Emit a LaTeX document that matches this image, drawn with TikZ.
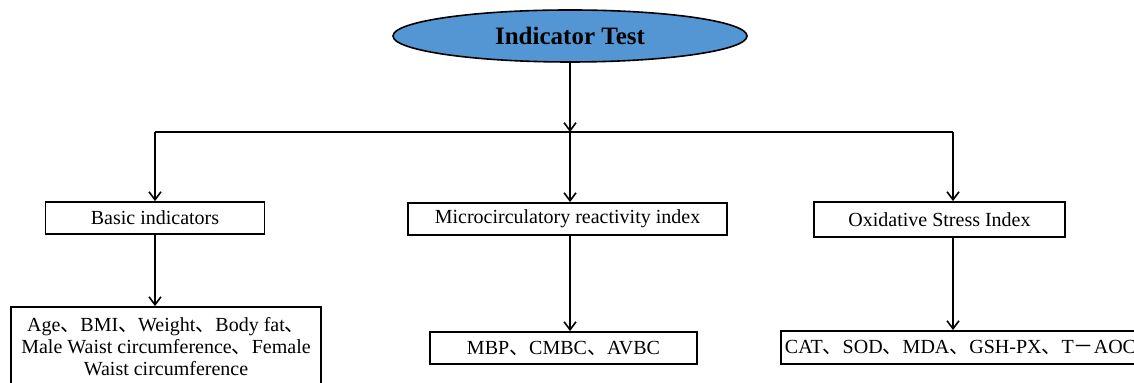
\documentclass[tikz,border=0pt]{standalone}
\usepackage{fontspec}
\setmainfont{Liberation Serif}
\newfontfamily\cjk{Noto Sans CJK SC}
\usepackage{tikz}
\usetikzlibrary{arrows.meta,shapes.geometric}
\definecolor{headblue}{RGB}{84,150,212}
\newcommand{\ideocomma}{{\cjk 、}}
\newcommand{\fullminus}{{\cjk －}}

\begin{document}
\begin{tikzpicture}[x=0.5pt,y=-0.5pt,
  box/.style={draw,line width=0.9pt,rectangle,inner sep=0pt,font=\fontsize{10}{11}\selectfont},
  arr/.style={line width=0.8pt,-{Straight Barb[length=4pt,width=6pt]}}]
\useasboundingbox (0,0) rectangle (1134,383);
% head
\node[ellipse,draw,line width=0.8pt,fill=headblue,inner sep=0pt,minimum width=177pt,minimum height=26pt,font=\fontsize{12.5}{14}\selectfont\bfseries] (top) at (570,36) {Indicator Test};
% second level
\node[box,minimum width=109.5pt,minimum height=16pt] (basic) at (155,218) {Basic indicators};
\node[box,minimum width=159.5pt,minimum height=16pt] (micro) at (567.5,219) {Microcirculatory reactivity index};
\node[box,minimum width=125.5pt,minimum height=17.5pt] (oxid) at (939.5,219.5) {Oxidative Stress Index};
% third level
\node[box,minimum width=155pt,minimum height=40pt,align=center] (basicsub) at (166,347) {Age\ideocomma BMI\ideocomma Weight\ideocomma Body fat\ideocomma\\Male Waist circumference\ideocomma Female\\Waist circumference};
\node[box,minimum width=133.5pt,minimum height=16pt] (microsub) at (563.5,348) {MBP\ideocomma CMBC\ideocomma AVBC};
\node[box,minimum width=179.5pt,minimum height=16.5pt] (oxidsub) at (960.5,347.5) {CAT\ideocomma SOD\ideocomma MDA\ideocomma GSH-PX\ideocomma T\fullminus AOC};
% branch points
\coordinate (j) at (570,132);
\coordinate (jl) at (155,132);
\coordinate (jr) at (953,132);
\draw[arr] (top) -- (j);
\draw[line width=0.8pt] (jl) -- (jr);
\draw[arr] (jl) -- (jl |- basic.north);
\draw[arr] (j) -- (j |- micro.north);
\draw[arr] (jr) -- (jr |- oxid.north);
\draw[arr] (basic.south -| jl) -- (jl |- basicsub.north);
\draw[arr] (micro.south -| j) -- (j |- microsub.north);
\draw[arr] (oxid.south -| jr) -- (jr |- oxidsub.north);
\end{tikzpicture}
\end{document}
